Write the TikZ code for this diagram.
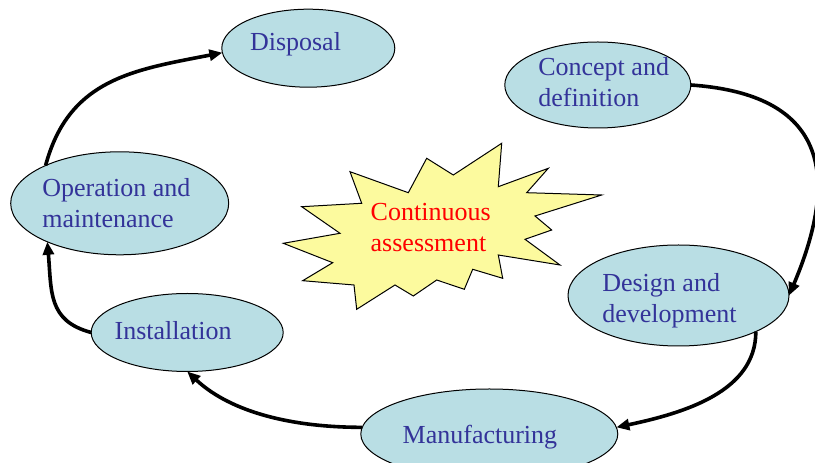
\documentclass[tikz,border=0pt]{standalone}
\usepackage{fontspec}
\setmainfont{Liberation Serif}
\usetikzlibrary{arrows.meta,shapes.geometric}
\definecolor{ellfill}{HTML}{B9DEE4}
\definecolor{txtblue}{HTML}{333399}
\definecolor{starfill}{HTML}{FCFA9E}
\definecolor{startxt}{HTML}{FF0000}
\begin{document}
\begin{tikzpicture}[x=1pt,y=1pt,
  phase/.style={ellipse, draw=black, line width=1pt, fill=ellfill, inner sep=0pt, outer sep=0pt},
  phasetext/.style={anchor=base west, align=left, inner sep=0pt, outer sep=0pt, text=txtblue, font=\fontsize{26}{31}\selectfont},
  flow/.style={line width=3.6pt, -{Triangle[length=13pt,width=11pt]}},
  burst/.style={fill=starfill, draw=black, line width=1pt, line join=miter}
]
\useasboundingbox (0,0) rectangle (815,463);
\clip (0,0) rectangle (815,463);

% phases
\node[phase, minimum width=173pt, minimum height=78pt] (disp) at (308.3,414.8) {};
\node[phase, minimum width=186pt, minimum height=86pt] (conc) at (597.8,378) {};
\node[phase, minimum width=218pt, minimum height=103pt] (oper) at (119.7,259.7) {};
\node[phase, minimum width=221pt, minimum height=101pt] (desi) at (678.5,167.5) {};
\node[phase, minimum width=192pt, minimum height=78pt] (inst) at (187.2,130.5) {};
\node[phase, minimum width=257pt, minimum height=90pt] (manu) at (489.3,29) {};

% texts (base = baseline of the last line)
\node[phasetext] (tdisp) at (250,412.3) {Disposal};
\node[phasetext] (tconc) at (538.3,356.3) {Concept and\\definition};
\node[phasetext] (toper) at (42.3,235.7) {Operation and\\maintenance};
\node[phasetext] (tdesi) at (602.3,140.3) {Design and\\development};
\node[phasetext] (tinst) at (114.7,123.7) {Installation};
\node[phasetext] (tmanu) at (402.7,19.7) {Manufacturing};

% cycle
\draw[flow] (conc.east) to[out=-4,in=67,out distance=120pt,in distance=150pt] (desi.east);
\draw[flow] (desi.-25) to[out=-90,in=12,out distance=60pt,in distance=70pt] (manu.3);
\draw[flow] (manu.177) to[out=180,in=-43,out distance=70pt,in distance=60pt] (inst.south);
\draw[flow] (inst.west) to[out=165,in=-85,out distance=45pt,in distance=50pt] (oper.208);
\draw[flow] (oper.153) to[out=75,in=191,out distance=90pt,in distance=90pt] (disp.183);

% burst
\begin{scope}[shift={(0,463)},yscale=-1]
\draw[burst] (501.7,143.3) -- (498.3,186.7) -- (548.3,168.3) -- (526.7,192.7)
  -- (601.7,195) -- (535,216) -- (551.7,230) -- (525,239.3) -- (560,265)
  -- (498.3,255) -- (502.7,278.3) -- (472.7,269.3) -- (464.3,289.3)
  -- (436.7,280) -- (413.3,296) -- (395,285) -- (356.7,309.3) -- (354,285)
  -- (302.7,280.7) -- (332.7,262.7) -- (283.3,243.3) -- (340,233.3)
  -- (301.7,206.7) -- (361.7,203.3) -- (350,171.7) -- (408.3,192.7)
  -- (426.7,158.3) -- (453.3,175) -- cycle;
\end{scope}
\node[phasetext, text=startxt] (tstar) at (370.7,211.3) {Continuous\\assessment};
\end{tikzpicture}
\end{document}
